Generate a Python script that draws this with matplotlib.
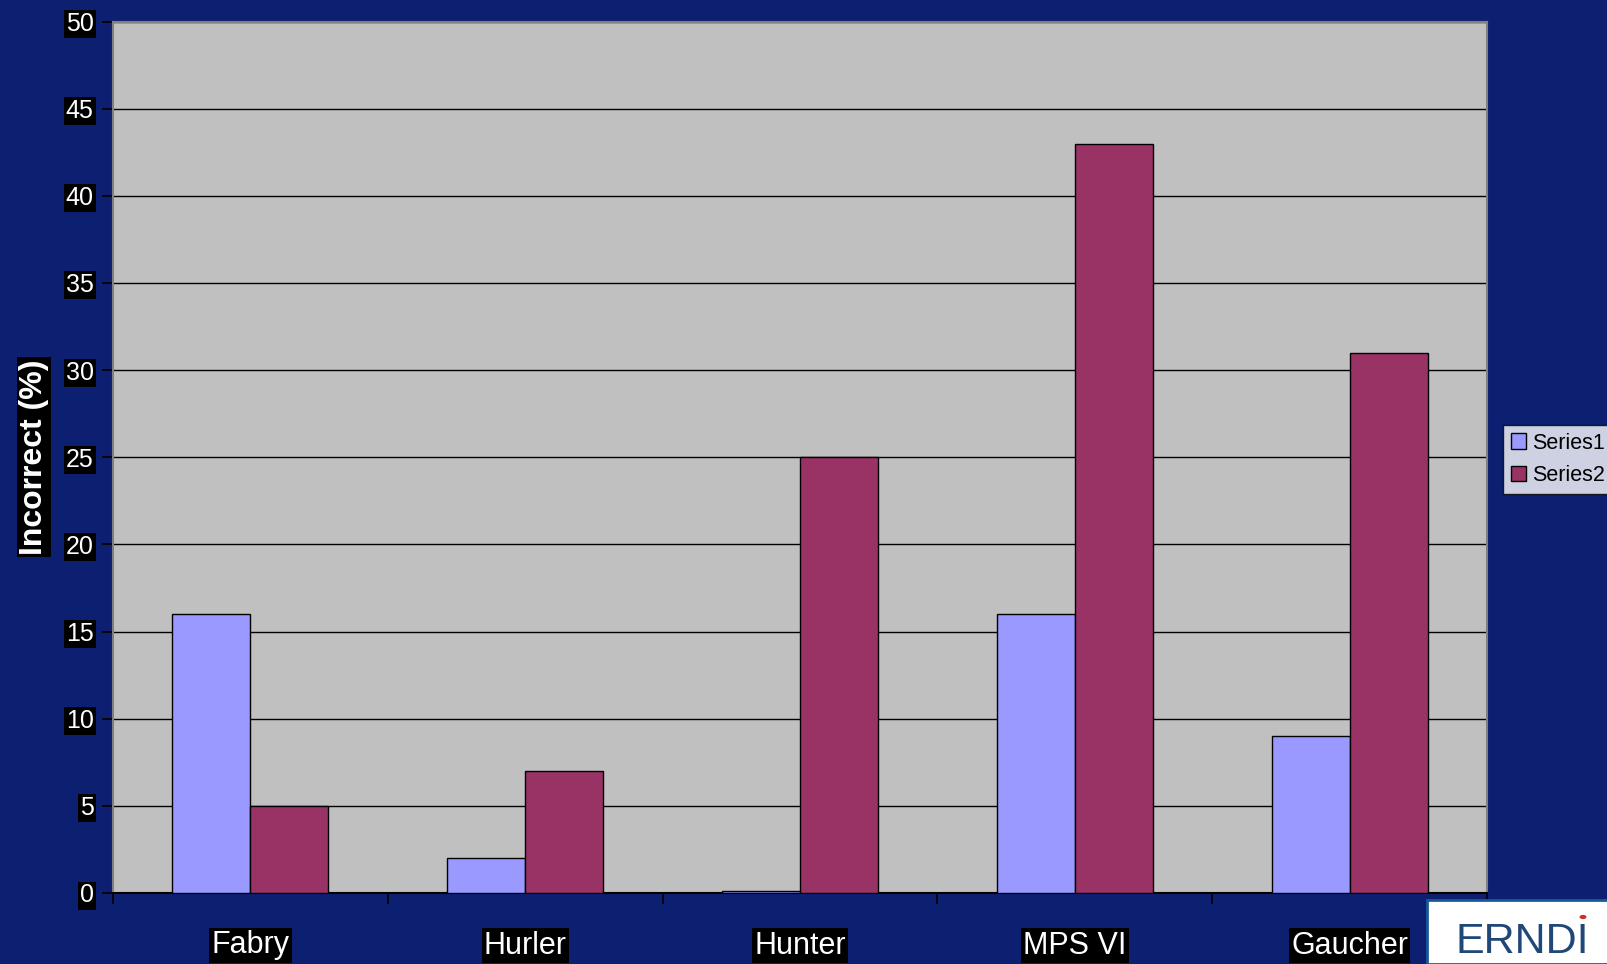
import matplotlib.pyplot as plt
from matplotlib.patches import Rectangle, Circle
import numpy as np

plt.rcParams['font.family'] = ['Liberation Sans', 'DejaVu Sans']

# dati
categories = ['Fabry', 'Hurler', 'Hunter', 'MPS VI', 'Gaucher']
series1 = [16, 2, 0.1, 16, 9]
series2 = [5, 7, 25, 43, 31]
y_ticks = [0, 5, 10, 15, 20, 25, 30, 35, 40, 45, 50]

bg = '#0C1F70'
W, H = 1608, 964

fig = plt.figure(figsize=(W / 100, H / 100), dpi=100, facecolor=bg)
ax = fig.add_axes([113 / W, 1 - 893 / H, (1487 - 113) / W, (893 - 21.5) / H])
ax.set_facecolor('#C0C0C0')

x = np.arange(len(categories))
bw = 0.284
ax.bar(x - bw / 2, series1, bw, color='#9999FF', edgecolor='black', linewidth=1, label='Series1', zorder=3)
ax.bar(x + bw / 2, series2, bw, color='#993366', edgecolor='black', linewidth=1, label='Series2', zorder=3)

ax.set_xlim(-0.5, len(categories) - 0.5)
ax.set_ylim(0, 50)
ax.set_yticks(y_ticks)
ax.set_yticklabels([str(t) for t in y_ticks], color='white', fontsize=18,
                   bbox=dict(facecolor='black', edgecolor='none', pad=1.5))
ax.tick_params(axis='y', length=8, width=1.2, color='black', pad=6)
ax.yaxis.grid(True, color='black', linewidth=1, zorder=1)
ax.set_axisbelow(True)

# tick principali ai confini, etichette sulle tick minori
ax.set_xticks(np.arange(-0.5, len(categories), 1))
ax.set_xticklabels([])
ax.tick_params(axis='x', which='major', length=8, width=1.2, color='black', direction='out')
ax.set_xticks(x, minor=True)
ax.set_xticklabels(categories, minor=True, color='white', fontsize=22,
                   bbox=dict(facecolor='black', edgecolor='none', pad=1.5))
ax.tick_params(axis='x', which='minor', length=0, pad=27)

for s in ax.spines.values():
    s.set_color('#808080')
    s.set_linewidth(1.5)
ax.spines['bottom'].set_color('black')

ax.set_ylabel('Incorrect (%)', color='white', fontsize=23, fontweight='bold', labelpad=12,
              bbox=dict(facecolor='black', edgecolor='none', pad=1.5))

leg = fig.legend(loc='upper left', bbox_to_anchor=(1503 / W, 1 - 425 / H), fontsize=15.5,
                 frameon=True, fancybox=False, edgecolor='black', facecolor='white',
                 handlelength=0.7, handleheight=0.7, handletextpad=0.3, borderpad=0.35,
                 labelspacing=0.55, borderaxespad=0)
leg.get_frame().set_linewidth(1)

# logo in basso a destra
fig.patches.append(Rectangle((1427 / W, 0), (W - 1427) / W, (H - 900) / H, transform=fig.transFigure,
                             facecolor='white', edgecolor='#1A5A9A', linewidth=2, zorder=5))
fig.text(1456 / W, 2 / H, 'ERNDI', color='#1F4878', fontsize=31, va='bottom', ha='left', zorder=6)
fig.patches.append(Circle((1583 / W, 1 - 917 / H), 3.5 / W, transform=fig.transFigure,
                          facecolor='#D03020', edgecolor='none', zorder=7))

fig.savefig('out.png', dpi=100, facecolor=bg)
